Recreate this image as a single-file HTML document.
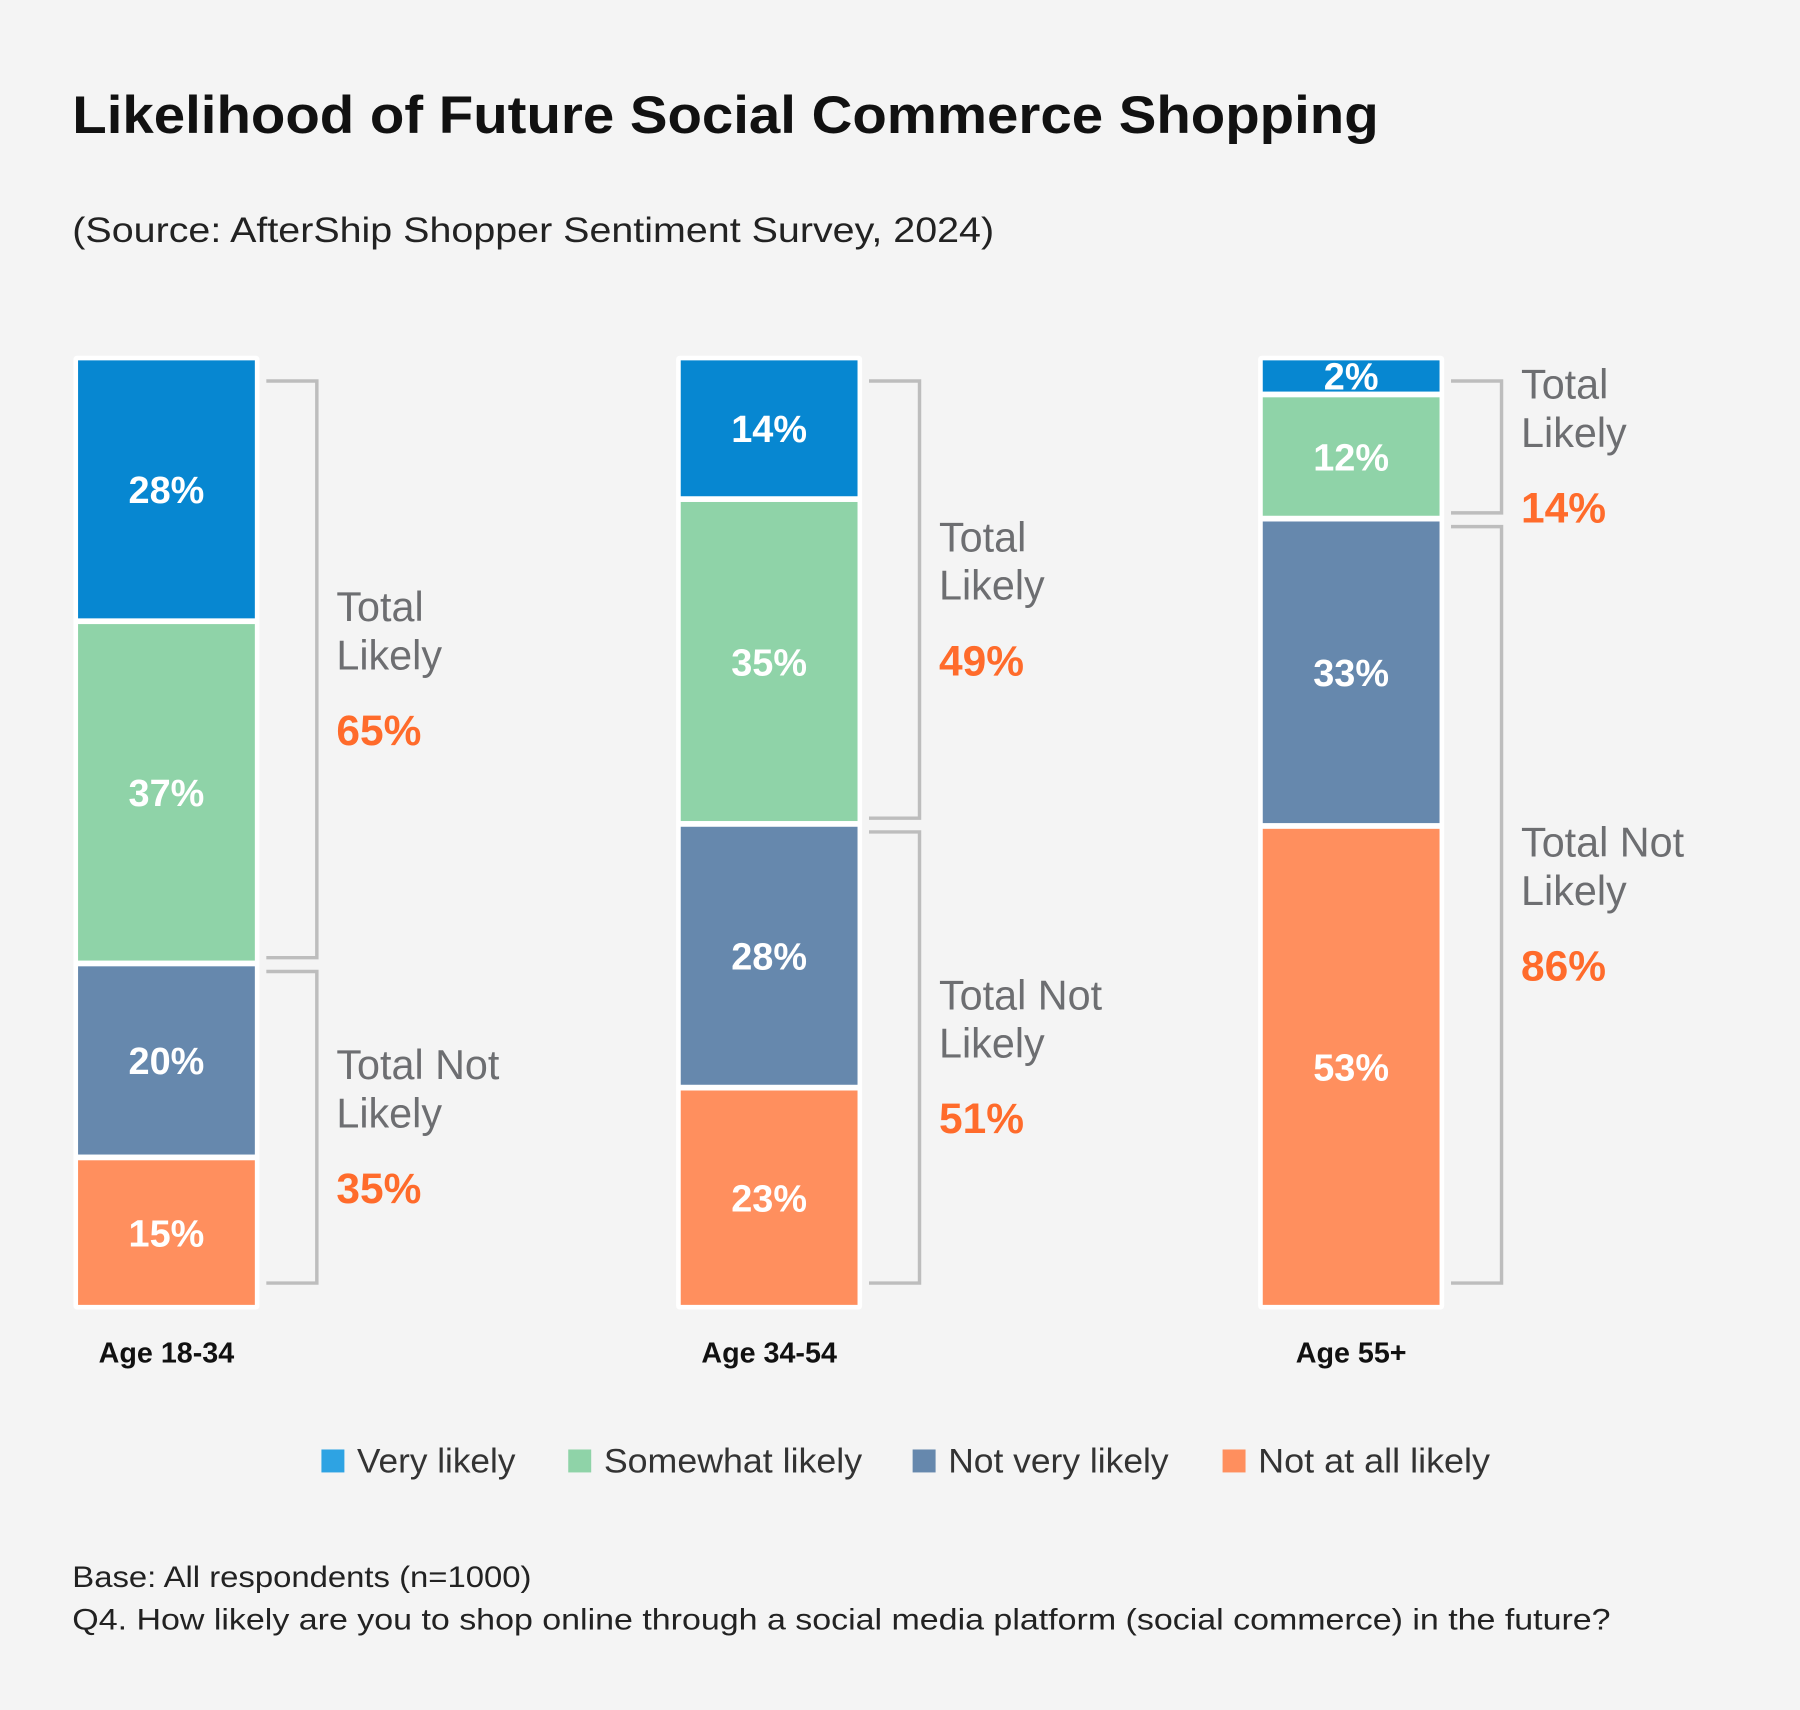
<!DOCTYPE html>
<html><head><meta charset="utf-8"><style>
html,body{margin:0;padding:0;background:#f4f4f4;}
svg{display:block;font-family:"Liberation Sans",sans-serif;}
</style></head><body>
<svg id="chart" width="1800" height="1710" viewBox="0 0 1568 1490" preserveAspectRatio="none">
<rect x="0" y="0" width="1568" height="1490" fill="#f4f4f4"/>
<text x="63" y="116" font-size="46" font-weight="bold" fill="#111" textLength="1138" lengthAdjust="spacingAndGlyphs">Likelihood of Future Social Commerce Shopping</text>
<text x="63" y="211" font-size="31" fill="#222" textLength="803" lengthAdjust="spacingAndGlyphs">(Source: AfterShip Shopper Sentiment Survey, 2024)</text>
<g id="bars"></g>
<g id="legend"></g>
<text x="63" y="1383" font-size="26" fill="#222" textLength="400" lengthAdjust="spacingAndGlyphs">Base: All respondents (n=1000)</text>
<text x="63" y="1420" font-size="26" fill="#222" textLength="1340" lengthAdjust="spacingAndGlyphs">Q4. How likely are you to shop online through a social media platform (social commerce) in the future?</text>
</svg>
<script>
const categories = ["Age 18-34", "Age 34-54", "Age 55+"];
const seriesNames = ["Very likely", "Somewhat likely", "Not very likely", "Not at all likely"];
const veryLikely = [28, 14, 2];
const somewhatLikely = [37, 35, 12];
const notVeryLikely = [20, 28, 33];
const notAtAllLikely = [15, 23, 53];
const totalLikely = [65, 49, 14];
const totalNotLikely = [35, 51, 86];

const colors = ["#0787d1", "#8fd3a8", "#6688ad", "#ff8f5e"];
const legendColors = ["#2ea3e3", "#8fd3a8", "#6688ad", "#ff8f5e"];
const NS = "http://www.w3.org/2000/svg";
const barsG = document.getElementById('bars');
const legendG = document.getElementById('legend');
const barTop = 314, barBottom = 1137, barW = 154, gap = 5, minH = 12;
const barX = [68, 593, 1100];
function el(tag, attrs, parent) {
  const e = document.createElementNS(NS, tag);
  for (const k in attrs) e.setAttribute(k, attrs[k]);
  parent.appendChild(e);
  return e;
}
const series = [veryLikely, somewhatLikely, notVeryLikely, notAtAllLikely];
categories.forEach((cat, i) => {
  const x = barX[i];
  const vals = series.map(s => s[i]);
  const total = vals.reduce((a, b) => a + b, 0);
  const avail = (barBottom - barTop) - gap * (vals.length - 1) - minH * vals.length;
  const bg = el('rect', {x: x - 4, y: barTop - 4, width: barW + 8, height: barBottom - barTop + 8, fill: '#ffffff', rx: 3}, barsG);
  
  
  let y = barTop;
  const bounds = [];
  vals.forEach((v, j) => {
    const h = minH + avail * v / total;
    const t0 = y, t1 = y + h;
    bounds.push([t0, t1]);
    const r = el('rect', {x: x, y: t0, width: barW, height: h, fill: colors[j]}, barsG);
    
    
    const t = el('text', {x: x + barW / 2, y: (t0 + t1) / 2 + 12, 'font-size': 33, 'font-weight': 'bold', fill: '#ffffff', 'text-anchor': 'middle'}, barsG);
    t.textContent = v + '%';
    
    
    y = t1 + gap;
  });
  const split = bounds[1][1] + gap / 2;
  const groups = [
    {y0: barTop + 18, y1: split - 5, lines: ['Total', 'Likely'], pct: totalLikely[i], name: 'total-likely'},
    {y0: split + 7, y1: barBottom - 19, lines: ['Total Not', 'Likely'], pct: totalNotLikely[i], name: 'total-not-likely'}
  ];
  groups.forEach(g => {
    const bx = x + 164, vx = x + 208;
    const p = el('path', {d: `M${bx} ${g.y0} H${vx} V${g.y1} H${bx}`, fill: 'none', stroke: '#bdbdbd', 'stroke-width': 3}, barsG);
    
    
    const c = (g.y0 + g.y1) / 2;
    const tx = x + 225;
    g.lines.forEach((ln, k) => {
      const t = el('text', {x: tx, y: c - 42 + k * 42, 'font-size': 36, fill: '#6d6e71'}, barsG);
      t.textContent = ln;
      
      
    });
    const pt = el('text', {x: tx, y: c + 66, 'font-size': 37, 'font-weight': 'bold', fill: '#ff6b2b'}, barsG);
    pt.textContent = g.pct + '%';
    
    
  });
  const xl = el('text', {x: x + barW / 2, y: 1187, 'font-size': 25, 'font-weight': 'bold', fill: '#111', 'text-anchor': 'middle'}, barsG);
  xl.textContent = cat;
  
  
});
const legX = [280, 495, 795, 1065];
const legW = [138, 225, 192, 202];
seriesNames.forEach((n, j) => {
  const sq = el('rect', {x: legX[j], y: 1263, width: 20, height: 20, fill: legendColors[j]}, legendG);
  
  
  const t = el('text', {x: legX[j] + 31, y: 1283, 'font-size': 30, fill: '#333', textLength: legW[j], lengthAdjust: 'spacingAndGlyphs'}, legendG);
  t.textContent = n;
  
  
});
</script>
</body></html>
